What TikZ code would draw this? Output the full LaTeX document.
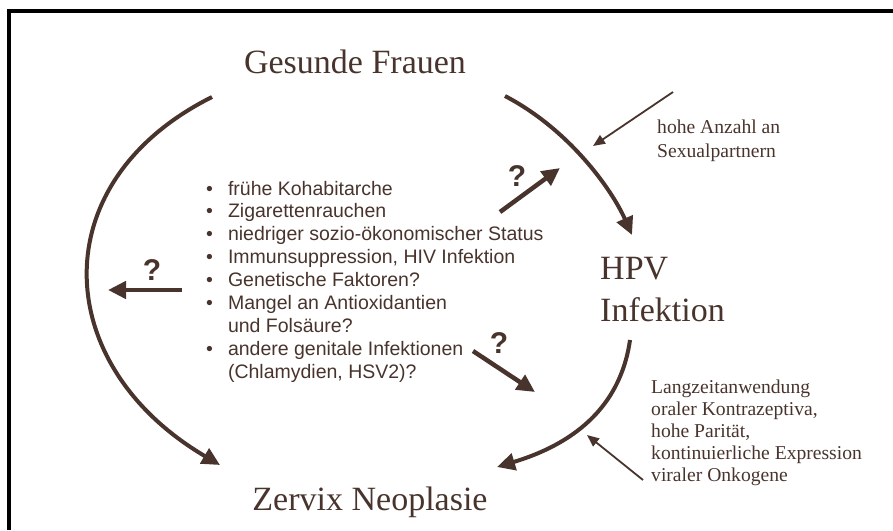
\documentclass[tikz,border=0pt]{standalone}
\usepackage{fontspec}
\setmainfont{Liberation Serif}
\setsansfont{Liberation Sans}
\usetikzlibrary{arrows.meta}
\definecolor{braun}{RGB}{72,52,44}
\tikzset{
	bogen/.style={draw=braun, line width=4pt, -{Triangle[length=18pt,width=17pt]}},
	fragepfeil/.style={draw=braun, line width=4.5pt, -{Triangle[length=18pt,width=17pt]}},
	duennpfeil/.style={draw=braun, line width=1.8pt, -{Triangle[length=12pt,width=10pt]}},
	gross/.style={text=braun, font=\fontsize{34}{42}\selectfont, inner sep=0pt, align=left},
	klein/.style={text=braun, font=\fontsize{19.6}{22}\selectfont, inner sep=0pt, align=left},
	frage/.style={text=braun, font=\sffamily\bfseries\fontsize{30}{30}\selectfont, inner sep=0pt}
}

\begin{document}
\begin{tikzpicture}[x=1pt, y=-1pt]
			%%%%% START %%%%%
			\useasboundingbox (0, 0) rectangle (893, 530);
			\draw[line width=4pt] (9, 530) -- (9, 11) -- (893, 11);
			
			% mehrzeilige Knoten: base = letzte Zeile
			\node[gross, anchor=base] (frauen) at (355, 73) {Gesunde Frauen};
			\node[gross, anchor=base west] (hpv) at (600, 321) {HPV\\Infektion};
			\node[gross, anchor=base] (neoplasie) at (370, 510) {Zervix Neoplasie};
			
			\node[klein, anchor=base west, font=\fontsize{19.6}{24}\selectfont] (partner) at (657, 157) {hohe Anzahl an\\Sexualpartnern};
			\node[klein, anchor=base west] (kofaktoren) at (651, 481) {Langzeitanwendung\\oraler Kontrazeptiva,\\hohe Parität,\\kontinuierliche Expression\\viraler Onkogene};
			
			\node[anchor=base west, text=braun, inner sep=0pt, font=\sffamily\fontsize{19.5}{22.9}\selectfont] (liste) at (206, 195) {%
				\begin{tabular}[t]{@{}l@{\hspace{15pt}}l@{}}
					\textbullet & frühe Kohabitarche\\
					\textbullet & Zigarettenrauchen\\
					\textbullet & niedriger sozio-ökonomischer Status\\
					\textbullet & Immunsuppression, HIV Infektion\\
					\textbullet & Genetische Faktoren?\\
					\textbullet & Mangel an Antioxidantien\\
					& und Folsäure?\\
					\textbullet & andere genitale Infektionen\\
					& (Chlamydien, HSV2)?
				\end{tabular}};
			
			% Bogenenden
			\coordinate (frauen-l) at (212, 97);
			\coordinate (frauen-r) at (505, 96);
			\coordinate (hpv-o) at (632, 235);
			\coordinate (hpv-u) at (630, 340);
			\coordinate (neo-l) at (220, 465);
			\coordinate (neo-r) at (497, 467);
			
			\draw[bogen] (frauen-l) .. controls (42, 182) and (50, 365) .. (neo-l);
			\draw[bogen] (frauen-r) .. controls (570, 130) and (612, 190) .. (hpv-o);
			\draw[bogen] (hpv-u) .. controls (620, 410) and (570, 445) .. (neo-r);
			
			% Fragezeichen-Pfeile
			\coordinate (links-a) at (182, 290);
			\coordinate (links-b) at (108, 290);
			\draw[fragepfeil] (links-a) -- (links-b);
			\node[frage] (frage-l) at (152, 270) {?};
			
			\coordinate (oben-a) at (500, 212);
			\coordinate (oben-b) at (560, 168);
			\draw[fragepfeil] (oben-a) -- (oben-b);
			\node[frage] (frage-o) at (517, 176) {?};
			
			\coordinate (unten-a) at (473, 351);
			\coordinate (unten-b) at (535, 392);
			\draw[fragepfeil] (unten-a) -- (unten-b);
			\node[frage] (frage-u) at (499, 343) {?};
			
			% duenne Pfeile
			\coordinate (partner-a) at (673, 92);
			\coordinate (partner-b) at (593, 146);
			\draw[duennpfeil] (partner-a) -- (partner-b);
			\coordinate (kofaktoren-a) at (643, 480);
			\coordinate (kofaktoren-b) at (587, 435);
			\draw[duennpfeil] (kofaktoren-a) -- (kofaktoren-b);
			%%%%% END %%%%%
\end{tikzpicture}
\end{document}
